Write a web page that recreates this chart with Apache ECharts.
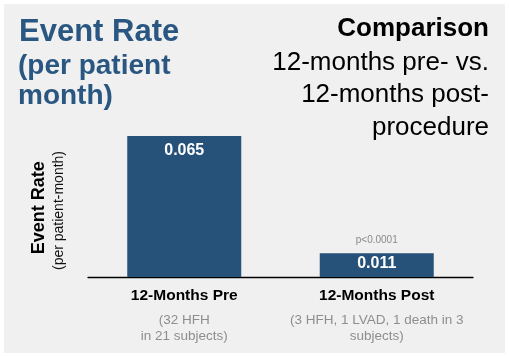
<!DOCTYPE html>
<html>
<head>
<meta charset="utf-8">
<script src="https://cdn.jsdelivr.net/npm/echarts@6/dist/echarts.min.js"></script>
<style>
  html, body { margin: 0; padding: 0; background: #ffffff; }
  #chart { width: 509px; height: 357px; }
</style>
</head>
<body>
<div id="chart"></div>
<script>
// ---- data ----
const categories = ['12-Months Pre', '12-Months Post'];
const categoryNotes = ['(32 HFH\nin 21 subjects)', '(3 HFH, 1 LVAD, 1 death in 3\nsubjects)'];
const eventRates = [0.065, 0.011];
const valueLabels = ['0.065', '0.011'];
const pValueLabels = ['', 'p<0.0001'];
const yAxisRange = [0, 0.1];

const FONT = "'Liberation Sans', Arial, Helvetica, sans-serif";
const BLUE = '#26527a';
const TITLE_BLUE = '#2a5782';

const chart = echarts.init(document.getElementById('chart'), null, { renderer: 'canvas' });

const labelDistances = [6.5, 2];

const option = {
  backgroundColor: '#ffffff',
  animation: false,
  graphic: [
    { type: 'rect', z: -10, shape: { x: 4, y: 4, width: 501, height: 349 }, style: { fill: '#eff0ef' } },
    // left title
    { type: 'text', x: 19, y: 32.5, style: { text: 'Event Rate', font: "bold 31px " + FONT, fill: TITLE_BLUE, textAlign: 'left', textVerticalAlign: 'middle' } },
    { type: 'text', x: 18, y: 66.2, style: { text: '(per patient', font: "bold 28px " + FONT, fill: TITLE_BLUE, textAlign: 'left', textVerticalAlign: 'middle' } },
    { type: 'text', x: 18, y: 96, style: { text: 'month)', font: "bold 28px " + FONT, fill: TITLE_BLUE, textAlign: 'left', textVerticalAlign: 'middle' } },
    // right title
    { type: 'text', x: 489, y: 28.4, style: { text: 'Comparison', font: "bold 26px " + FONT, fill: '#000000', textAlign: 'right', textVerticalAlign: 'middle' } },
    { type: 'text', x: 489, y: 62.9, style: { text: '12-months pre- vs.', font: "26px " + FONT, fill: '#000000', textAlign: 'right', textVerticalAlign: 'middle' } },
    { type: 'text', x: 489, y: 94.9, style: { text: '12-months post-', font: "26px " + FONT, fill: '#000000', textAlign: 'right', textVerticalAlign: 'middle' } },
    { type: 'text', x: 489, y: 127.4, style: { text: 'procedure', font: "26px " + FONT, fill: '#000000', textAlign: 'right', textVerticalAlign: 'middle' } },
    // y axis names (rotated)
    { type: 'text', x: 38.7, y: 207.7, rotation: Math.PI / 2, style: { text: 'Event Rate', font: "bold 18px " + FONT, fill: '#000000', textAlign: 'center', textVerticalAlign: 'middle' } },
    { type: 'text', x: 59.5, y: 210.5, rotation: Math.PI / 2, style: { text: '(per patient-month)', font: "14px " + FONT, fill: '#111111', textAlign: 'center', textVerticalAlign: 'middle' } }
  ],
  grid: { left: 88, right: 36, top: 60, bottom: 80, containLabel: false },
  xAxis: {
    type: 'category',
    data: categories,
    axisLine: { show: true, lineStyle: { color: '#000000', width: 1.3 } },
    axisTick: { show: false },
    splitLine: { show: false },
    axisLabel: {
      margin: 3,
      interval: 0,
      formatter: function (value, idx) {
        return '{t|' + value + '}\n{s|' + categoryNotes[idx] + '}';
      },
      rich: {
        t: { fontFamily: FONT, fontWeight: 'bold', fontSize: 15.5, color: '#000000', lineHeight: 32, align: 'center' },
        s: { fontFamily: FONT, fontSize: 13.5, color: '#8e8e8e', lineHeight: 16, align: 'center' }
      }
    }
  },
  yAxis: {
    type: 'value',
    min: yAxisRange[0],
    max: yAxisRange[1],
    show: false,
    splitLine: { show: false }
  },
  series: [
    {
      type: 'bar',
      barWidth: 114,
      data: eventRates.map(function (v, i) {
        return { value: v, label: { distance: labelDistances[i] } };
      }),
      itemStyle: { color: BLUE },
      label: {
        show: true,
        position: 'insideTop',
        formatter: function (p) { return valueLabels[p.dataIndex]; },
        fontFamily: FONT,
        fontWeight: 'bold',
        fontSize: 16,
        color: '#ffffff'
      }
    },
    {
      type: 'bar',
      barWidth: 114,
      barGap: '-100%',
      data: eventRates,
      itemStyle: { color: 'rgba(0,0,0,0)' },
      silent: true,
      z: 3,
      label: {
        show: true,
        position: 'top',
        distance: 8,
        formatter: function (p) { return pValueLabels[p.dataIndex]; },
        fontFamily: FONT,
        fontSize: 10,
        color: '#8a8a8a'
      }
    }
  ]
};

chart.setOption(option);
</script>
</body>
</html>
